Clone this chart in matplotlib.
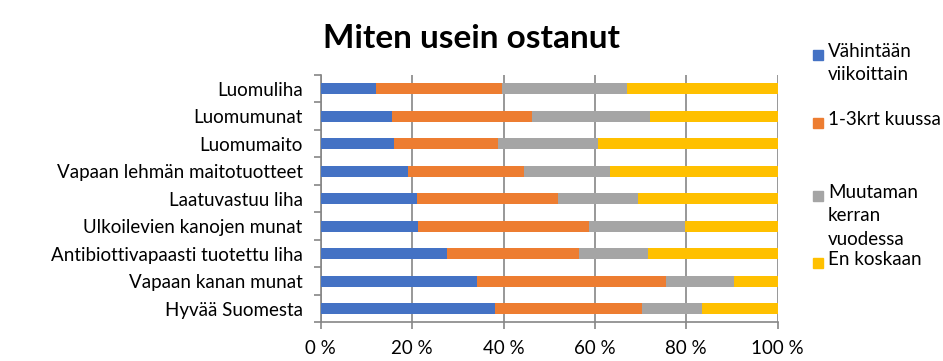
import numpy as np
import matplotlib.pyplot as plt
from matplotlib.patches import Rectangle
from matplotlib.ticker import FixedLocator

# --- Data (percent of respondents) ---
categories = ["Luomuliha", "Luomumunat", "Luomumaito",
              "Vapaan lehmän maitotuotteet", "Laatuvastuu liha",
              "Ulkoilevien kanojen munat", "Antibiottivapaasti tuotettu liha",
              "Vapaan kanan munat", "Hyvää Suomesta"]
weekly = [12.1, 15.6, 16.0, 19.1, 21.1, 21.3, 27.6, 34.2, 38.1]
monthly = [27.6, 30.6, 22.8, 25.3, 30.8, 37.4, 28.9, 41.4, 32.2]
yearly = [27.3, 25.9, 21.9, 18.9, 17.5, 21.0, 15.1, 14.8, 13.1]
never = [33.0, 27.9, 39.3, 36.7, 30.6, 20.3, 28.4, 9.6, 16.6]
series_names = ["Vähintään\nviikoittain", "1-3krt kuussa",
                "Muutaman\nkerran\nvuodessa", "En koskaan"]
xticks = [0, 20, 40, 60, 80, 100]

colors = ["#4472C4", "#ED7D31", "#A5A5A5", "#FFC000"]
plt.rcParams['font.family'] = ['Lato', 'DejaVu Sans']

fig = plt.figure(figsize=(9.43, 3.61), dpi=100)
ax = fig.add_axes([0.3401, 0.1072, 0.4846, 0.685])

y = np.arange(len(categories))
left = np.zeros(len(categories))
for vals, col in zip([weekly, monthly, yearly, never], colors):
    ax.barh(y, vals, left=left, height=0.4, color=col, zorder=3)
    left += np.array(vals)

ax.set_xlim(0, 100)
ax.set_ylim(len(categories) - 0.5, -0.5)
ax.set_yticks(y)
ax.set_yticklabels(categories, fontsize=13.5)
ax.yaxis.set_minor_locator(FixedLocator(np.arange(-0.5, len(categories), 1)))
ax.tick_params(axis='y', which='major', length=0, pad=13)
ax.tick_params(axis='y', which='minor', length=5, color='#868686', width=1.2)
ax.set_xticks(xticks)
ax.set_xticklabels([f"{t} %" for t in xticks], fontsize=13.5)
ax.tick_params(axis='x', length=5, color='#868686', width=1.2, pad=8)

ax.grid(axis='x', color='#868686', linewidth=1.2, zorder=0)
for s in ['top', 'right']:
    ax.spines[s].set_visible(False)
for s in ['left', 'bottom']:
    ax.spines[s].set_color('#868686')
    ax.spines[s].set_linewidth(1.2)

fig.text(0.4995, 0.893, "Miten usein ostanut", ha='center', va='center',
         fontsize=24, fontweight='bold')

# legend drawn by hand to copy the uneven spacing
legend_y = [55, 123, 196, 263]
for name, col, ly in zip(series_names, colors, legend_y):
    fig.patches.append(Rectangle((813 / 943, 1 - (ly + 5) / 361), 10 / 943, 10 / 361,
                                 transform=fig.transFigure, color=col))
    fig.text(828 / 943, 1 - (ly - 12) / 361, name, ha='left', va='top',
             fontsize=13.5, linespacing=1.45)

plt.savefig("out.png", dpi=100)
